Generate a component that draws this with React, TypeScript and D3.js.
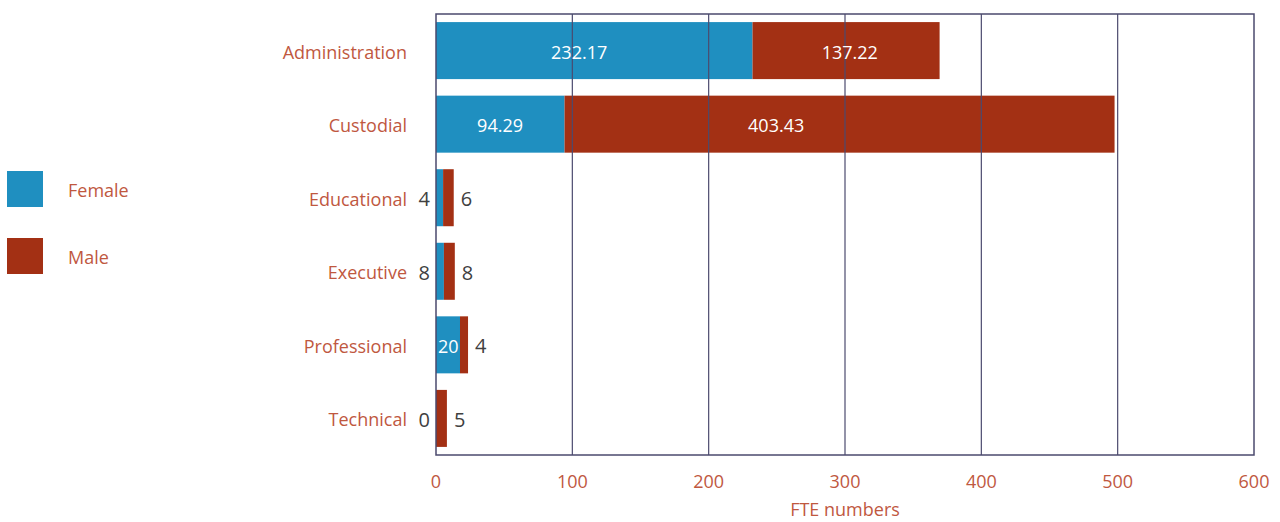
import React from "react";
import * as d3 from "d3";

const categories = ["Administration", "Custodial", "Educational", "Executive", "Professional", "Technical"];
const femaleValues = [232.17, 94.29, 5.2, 5.8, 17.6, 0];
const maleValues = [137.22, 403.43, 7.8, 8.0, 5.9, 8.0];
const femaleLabels = ["232.17", "94.29", "4", "8", "20", "0"];
const maleLabels = ["137.22", "403.43", "6", "8", "4", "5"];
// where the label sits: "in" = inside the bar, "out" = outside
const femaleLabelPlace = ["in", "in", "out", "out", "in", "out"];
const maleLabelPlace = ["in", "in", "out", "out", "out", "out"];
// label centre in FTE units for the inside labels
const femaleLabelAt = [105, 47, 0, 0, 9, 0];
const maleLabelAt = [303.5, 249.5, 0, 0, 0, 0];
const xTicks = [0, 100, 200, 300, 400, 500, 600];
const seriesNames = ["Female", "Male"];

const W = 1280;
const H = 522;
const FEMALE = "#1f8fc0";
const MALE = "#a33014";
const TEXT = "#c0583f";
const GRID = "#4b4a6e";
const DARK = "#404040";
const FONT = "'Open Sans', 'Noto Sans', sans-serif";

export default function App() {
  const left = 436;
  const right = 1254;
  const top = 14;
  const bottom = 455;
  const x = d3.scaleLinear().domain([0, 600]).range([left, right]);
  const y = d3
    .scaleBand<string>()
    .domain(categories)
    .range([top, bottom])
    .paddingInner(0.225)
    .paddingOuter(0.11);
  const bw = y.bandwidth();

  return (
    <svg
      width={W}
      height={H}
      style={{ position: "absolute", left: 0, top: 0, fontFamily: FONT }}
    >
      {/* legend */}
      {seriesNames.map((n, i) => (
        <g key={n}>
          <rect x={7} y={171 + i * 67} width={36} height={36} fill={i === 0 ? FEMALE : MALE} />
          <text x={68} y={190 + i * 67} dominantBaseline="central" fontSize={18} fill={TEXT}>
            {n}
          </text>
        </g>
      ))}

      {/* bars */}
      {categories.map((c, i) => {
        const y0 = y(c)!;
        const fx0 = x(0);
        const fx1 = x(femaleValues[i]);
        const mx1 = x(femaleValues[i] + maleValues[i]);
        return (
          <g key={c}>
            <rect x={fx0} y={y0} width={fx1 - fx0} height={bw} fill={FEMALE} />
            <rect x={fx1} y={y0} width={mx1 - fx1} height={bw} fill={MALE} />
          </g>
        );
      })}

      {/* grid lines + border */}
      {xTicks.slice(1, -1).map((t) => (
        <line key={t} x1={x(t)} x2={x(t)} y1={top} y2={bottom} stroke={GRID} strokeWidth={1.2} />
      ))}
      <rect x={left} y={top} width={right - left} height={bottom - top} fill="none" stroke={GRID} strokeWidth={1.5} />

      {/* category labels */}
      {categories.map((c) => (
        <text
          key={c}
          x={407}
          y={y(c)! + bw / 2 + 1}
          textAnchor="end"
          dominantBaseline="central"
          fontSize={18}
          fill={TEXT}
        >
          {c}
        </text>
      ))}

      {/* value labels */}
      {categories.map((c, i) => {
        const y0 = y(c)!;
        const cy = y0 + bw / 2 + 1;
        const fx0 = x(0);
        const mx1 = x(femaleValues[i] + maleValues[i]);
        const fIn = femaleLabelPlace[i] === "in";
        const mIn = maleLabelPlace[i] === "in";
        return (
          <g key={c}>
            <text
              x={fIn ? x(femaleLabelAt[i]) : fx0 - 6}
              y={cy}
              textAnchor={fIn ? "middle" : "end"}
              dominantBaseline="central"
              fontSize={fIn ? 18 : 20}
              fill={fIn ? "#ffffff" : DARK}
            >
              {femaleLabels[i]}
            </text>
            <text
              x={mIn ? x(maleLabelAt[i]) : mx1 + 7}
              y={cy}
              textAnchor={mIn ? "middle" : "start"}
              dominantBaseline="central"
              fontSize={mIn ? 18 : 20}
              fill={mIn ? "#ffffff" : DARK}
            >
              {maleLabels[i]}
            </text>
          </g>
        );
      })}

      {/* x tick labels */}
      {xTicks.map((t) => (
        <text key={t} x={x(t)} y={488} textAnchor="middle" fontSize={18} fill={TEXT}>
          {t}
        </text>
      ))}
      <text x={(left + right) / 2} y={516} textAnchor="middle" fontSize={18} fill={TEXT}>
        FTE numbers
      </text>
    </svg>
  );
}
